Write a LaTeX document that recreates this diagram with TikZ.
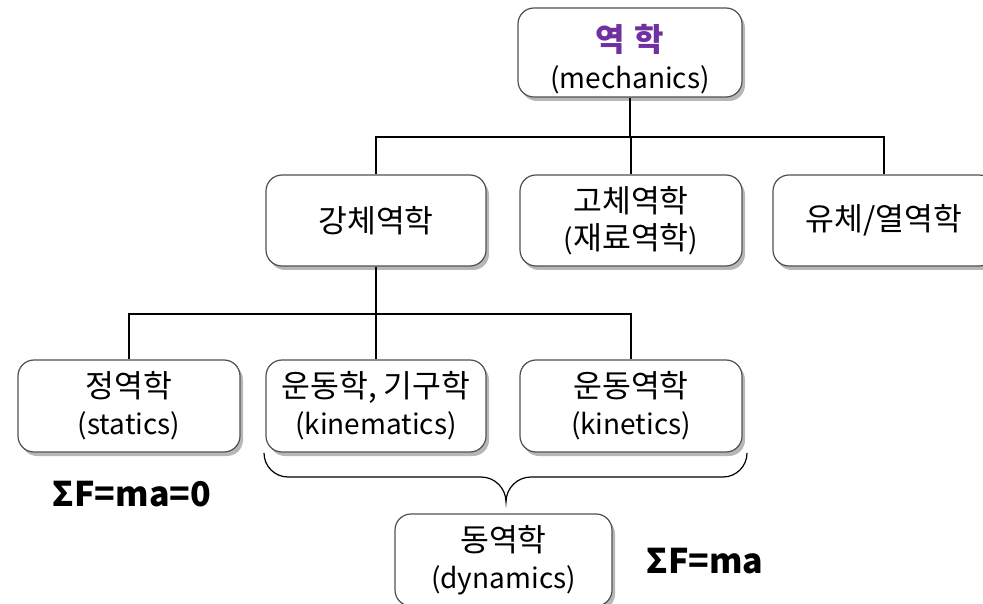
\documentclass[tikz,border=0pt]{standalone}
\usepackage{fontspec}
\setmainfont{Noto Sans CJK KR}
\newfontfamily\kr[Scale=1.12]{Noto Sans CJK KR}
\usetikzlibrary{shadows}
\definecolor{mpurple}{HTML}{7030A0}
\definecolor{boxline}{HTML}{505050}
\begin{document}
\begin{tikzpicture}[x=1pt,y=-1pt,
  box/.style={draw=boxline, line width=1.2pt, rounded corners=16pt, fill=white,
    minimum width=#1, minimum height=91pt, align=center, inner sep=0pt,
    font=\fontsize{28}{37}\selectfont,
    drop shadow={shadow xshift=3pt, shadow yshift=-4pt, opacity=0.4, fill=black!70}},
  box/.default=220pt,
  conn/.style={draw, line width=1.2pt},
  law/.style={font=\fontsize{34}{36}\selectfont\bfseries, inner sep=0pt}]
\useasboundingbox (0,0) rectangle (983,604);
\begin{scope}
\clip (0,0) rectangle (983,604);
\node[box=224pt, minimum height=89pt] (mech) at (630,52.5) {\raisebox{-16pt}[0pt][0pt]{\begin{tabular}{@{}c@{}}{\color{mpurple}\bfseries\fontsize{32}{37}\selectfont 역\hspace{0.3em}학}\\(mechanics)\end{tabular}}};
\node[box=220pt] (rigid) at (376,220.5) {{\kr 강체역학}};
\node[box=222pt] (solid) at (631,220.5) {{\kr 고체역학}\\({\kr 재료역학})};
\node[box=222pt] (fluid) at (884,220.5) {{\kr 유체/열역학}};
\node[box=222pt, minimum height=92pt] (stat) at (129,406) {{\kr 정역학}\\(statics)};
\node[box=220pt, minimum height=92pt] (kinem) at (376,406) {{\kr 운동학, 기구학}\\(kinematics)};
\node[box=222pt, minimum height=92pt] (kinet) at (631,406) {{\kr 운동역학}\\(kinetics)};
\node[box=217pt, minimum height=92pt] (dyn) at (503.5,560) {{\kr 동역학}\\(dynamics)};
\end{scope}
\coordinate (j1) at (630,137);
\coordinate (j2) at (376,314);
\draw[conn] (mech.south) -- (j1);
\draw[conn] (j1) -| (rigid.north);
\draw[conn] (j1) -| (fluid.north);
\draw[conn] (j1) -| (solid.north);
\draw[conn] (rigid.south) -- (j2);
\draw[conn] (j2) -| (stat.north);
\draw[conn] (j2) -- (kinem.north);
\draw[conn] (j2) -| (kinet.north);
\coordinate (bl) at (264,453);
\draw[line width=1.2pt] (bl) arc[start angle=180, end angle=90, x radius=24pt, y radius=-24pt]
  -- ++(193,0) arc[start angle=270, end angle=360, x radius=25pt, y radius=-25pt] coordinate (bt)
  arc[start angle=180, end angle=270, x radius=25pt, y radius=-25pt]
  -- (723,477) arc[start angle=90, end angle=0, x radius=24pt, y radius=-24pt] coordinate (br);
\node[law] (l1) at (132,494) {ΣF=ma=0};
\node[law] (l2) at (705,561) {ΣF=ma};
\end{tikzpicture}
\end{document}
